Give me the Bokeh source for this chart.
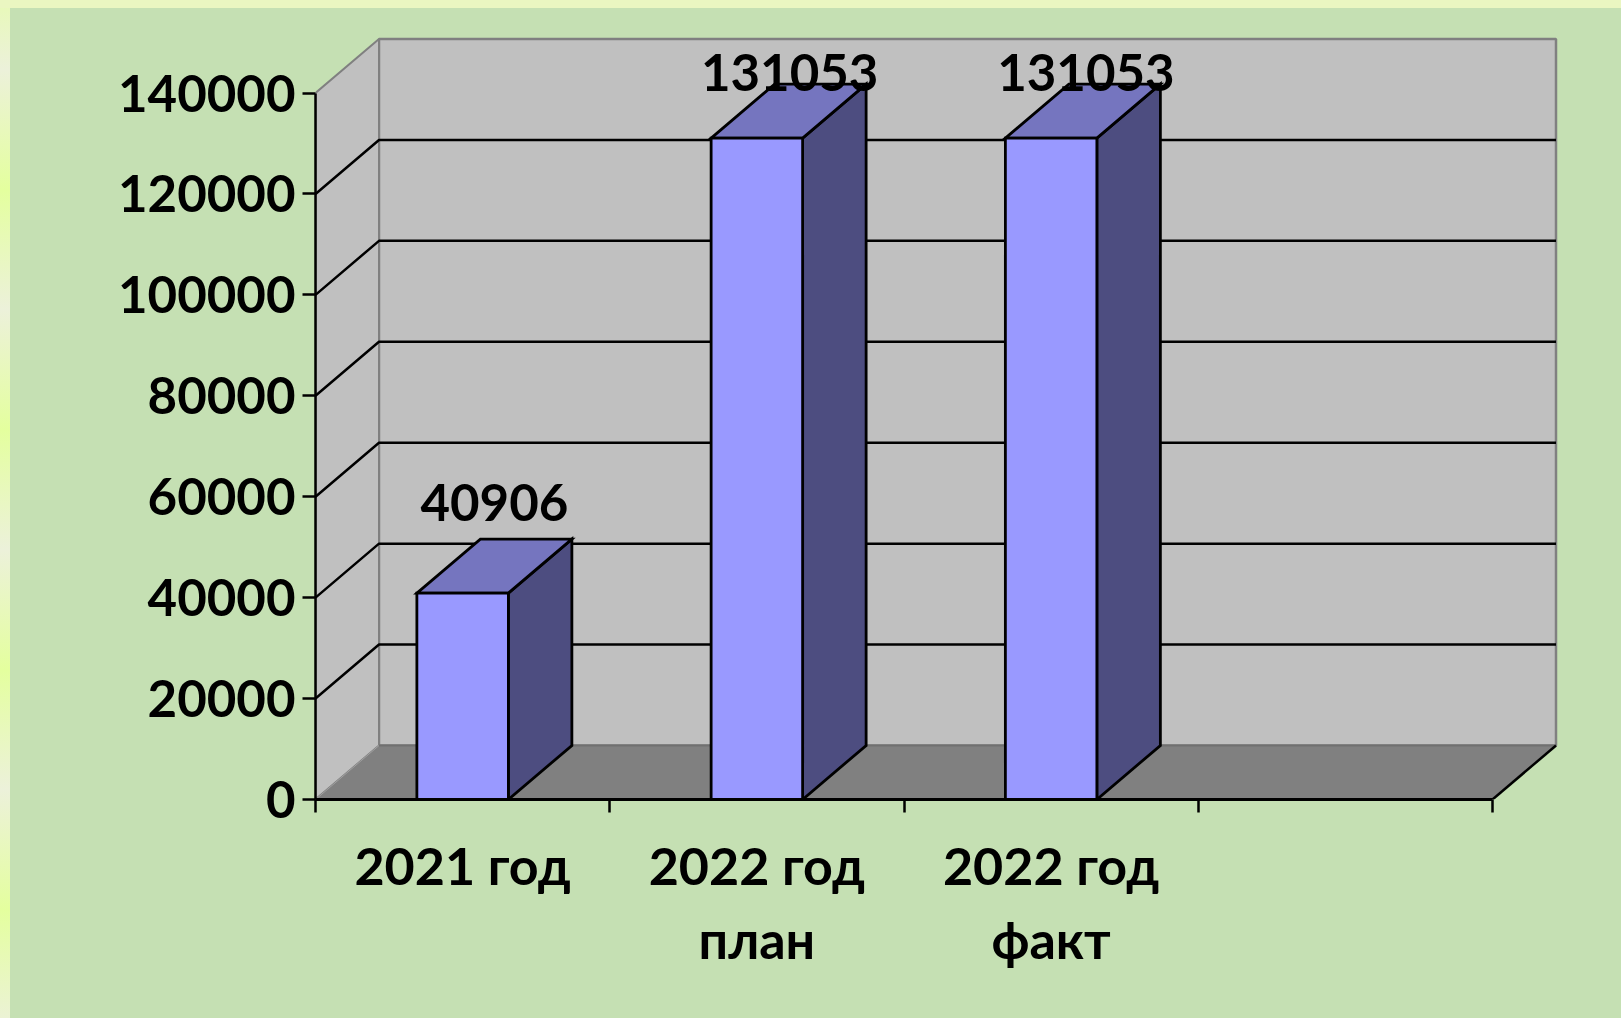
from bokeh.embed import file_html
from bokeh.resources import INLINE
from bokeh.plotting import figure
from bokeh.models import Range1d, FixedTicker, LinearAxis
from bokeh.core.properties import value

categories_line1 = ["2021 год", "2022 год", "2022 год"]
categories_line2 = ["", "план", "факт"]
series_values = [40906, 131053, 131053]
value_labels = ["40906", "131053", "131053"]
y_ticks = [0, 20000, 40000, 60000, 80000, 100000, 120000, 140000]
n_slots = 4

PX_X = 294.25
PX_Y = 706.5 / 140000
DX = 63.5 / PX_X
DY = 54 / PX_Y
BAR = 91.5 / PX_X
FONT = "Lato"
SIZE = "52px"
VALUE_SIZE = "51px"
AXIS_SIZE = "51px"
LABEL_NUDGE_PX = [0, 1, 3]

W, H = 1605, 1002
L, T, R, B = 307, 22, 53, 211
x_end = (W - L - R) / PX_X
y_end = (H - T - B) / PX_Y

p = figure(width=W, height=H, output_backend="svg", toolbar_location=None,
           x_range=Range1d(0, x_end), y_range=Range1d(0, y_end),
           min_border_left=L, min_border_top=T, min_border_right=R, min_border_bottom=B,
           x_axis_type=None, y_axis_type=None)
p.grid.visible = False
p.outline_line_color = None
p.background_fill_color = None
p.border_fill_color = None

top = max(y_ticks)
GRAY = "#808080"
# walls and floor
p.patch([DX, n_slots + DX, n_slots + DX, DX], [DY, DY, top + DY, top + DY],
        fill_color="#c0c0c0", line_color=GRAY, line_width=2.5)
p.patch([0, DX, DX, 0], [0, DY, top + DY, top], fill_color="#c0c0c0", line_color=GRAY, line_width=2)
p.patch([0, n_slots, n_slots + DX, DX], [0, 0, DY, DY], fill_color=GRAY, line_color=None)
p.line([DX, n_slots + DX], [DY, DY], line_color="#707070", line_width=2)
p.line([0, DX], [0, DY], line_color="#a0a0a0", line_width=1)
p.line([n_slots, n_slots + DX], [0, DY], line_color="black", line_width=2.5)
# gridlines
for t in y_ticks[1:-1]:
    p.line([0, DX, n_slots + DX], [t, t + DY, t + DY], line_color="black", line_width=2.5)

# bars
for i, v in enumerate(series_values):
    x0 = i + 0.5 - BAR / 2
    x1 = i + 0.5 + BAR / 2
    p.patch([x1, x1 + DX, x1 + DX, x1], [0, DY, v + DY, v], fill_color="#4d4d80",
            line_color="black", line_width=2.8, line_join="miter")
    p.patch([x0, x1, x1 + DX, x0 + DX], [v, v, v + DY, v + DY], fill_color="#7575bf",
            line_color="black", line_width=2.8, line_join="miter")
    p.quad(left=x0, right=x1, bottom=0, top=v, fill_color="#9999ff",
           line_color="black", line_width=2.8, line_join="miter")

# value labels
LABEL_GAP = 37 / PX_Y
LABEL_CAP = 144160
p.text(x=[i + 0.5 + DX / 2 + LABEL_NUDGE_PX[i] / PX_X for i in range(len(series_values))],
       y=[min(v + DY + LABEL_GAP, LABEL_CAP) for v in series_values],
       text=value_labels, text_font=value(FONT), text_font_style="bold",
       text_font_size=VALUE_SIZE, text_color="black", text_align="center", text_baseline="middle")

# axes
yax = LinearAxis(ticker=FixedTicker(ticks=y_ticks), bounds=(0, top))
yax.axis_line_color = "black"
yax.axis_line_width = 2.5
yax.major_tick_line_color = "black"
yax.major_tick_line_width = 2.5
yax.major_tick_in = 0
yax.major_tick_out = 13
yax.minor_tick_line_color = None
yax.major_label_standoff = 7
yax.major_label_text_font = FONT
yax.major_label_text_font_style = "bold"
yax.major_label_text_font_size = AXIS_SIZE
yax.major_label_text_color = "black"
yax.formatter.use_scientific = False
p.add_layout(yax, "left")

xax = LinearAxis(ticker=FixedTicker(ticks=list(range(n_slots + 1))), bounds=(0, n_slots))
xax.axis_line_color = "black"
xax.axis_line_width = 3
xax.major_tick_line_color = "black"
xax.major_tick_line_width = 2.5
xax.major_tick_in = 0
xax.major_tick_out = 13
xax.minor_tick_line_color = None
xax.major_label_text_font_size = "0px"
xax.major_label_standoff = 0
xax.major_label_overrides = {i: "" for i in range(n_slots + 1)}
p.add_layout(xax, "below")

for labels, standoff in ((categories_line1, 21), (categories_line2, 9)):
    ax = LinearAxis(ticker=FixedTicker(ticks=[i + 0.5 for i in range(len(labels))]))
    ax.major_label_overrides = {i + 0.5: s for i, s in enumerate(labels)}
    ax.axis_line_color = None
    ax.major_tick_line_color = None
    ax.minor_tick_line_color = None
    ax.major_tick_out = 0
    ax.major_tick_in = 0
    ax.major_label_standoff = standoff
    ax.major_label_text_font = FONT
    ax.major_label_text_font_style = "bold"
    ax.major_label_text_font_size = SIZE
    ax.major_label_text_color = "black"
    p.add_layout(ax, "below")

CSS = ("html{overflow:hidden;height:100%;margin:0 !important;padding:0}"
       "body{margin:8px !important;padding:0;overflow:hidden;-webkit-text-stroke:0.9px #000;background:"
       "linear-gradient(#c5e0b3,#c5e0b3) 10px 8px/100% 100% no-repeat,"
       "linear-gradient(#eaf6c1,#eaf6c1) 0 0/100% 8px no-repeat,"
       "repeating-linear-gradient(180deg,#ecf1da 70px,#e4ff9e 190px,#ecf1da 310px) 0 0/10px 100% no-repeat;}")
html = file_html(p, INLINE)
html = html.replace("</head>", "<style>" + CSS + "</style></head>", 1)
open("out.html", "w").write(html)
